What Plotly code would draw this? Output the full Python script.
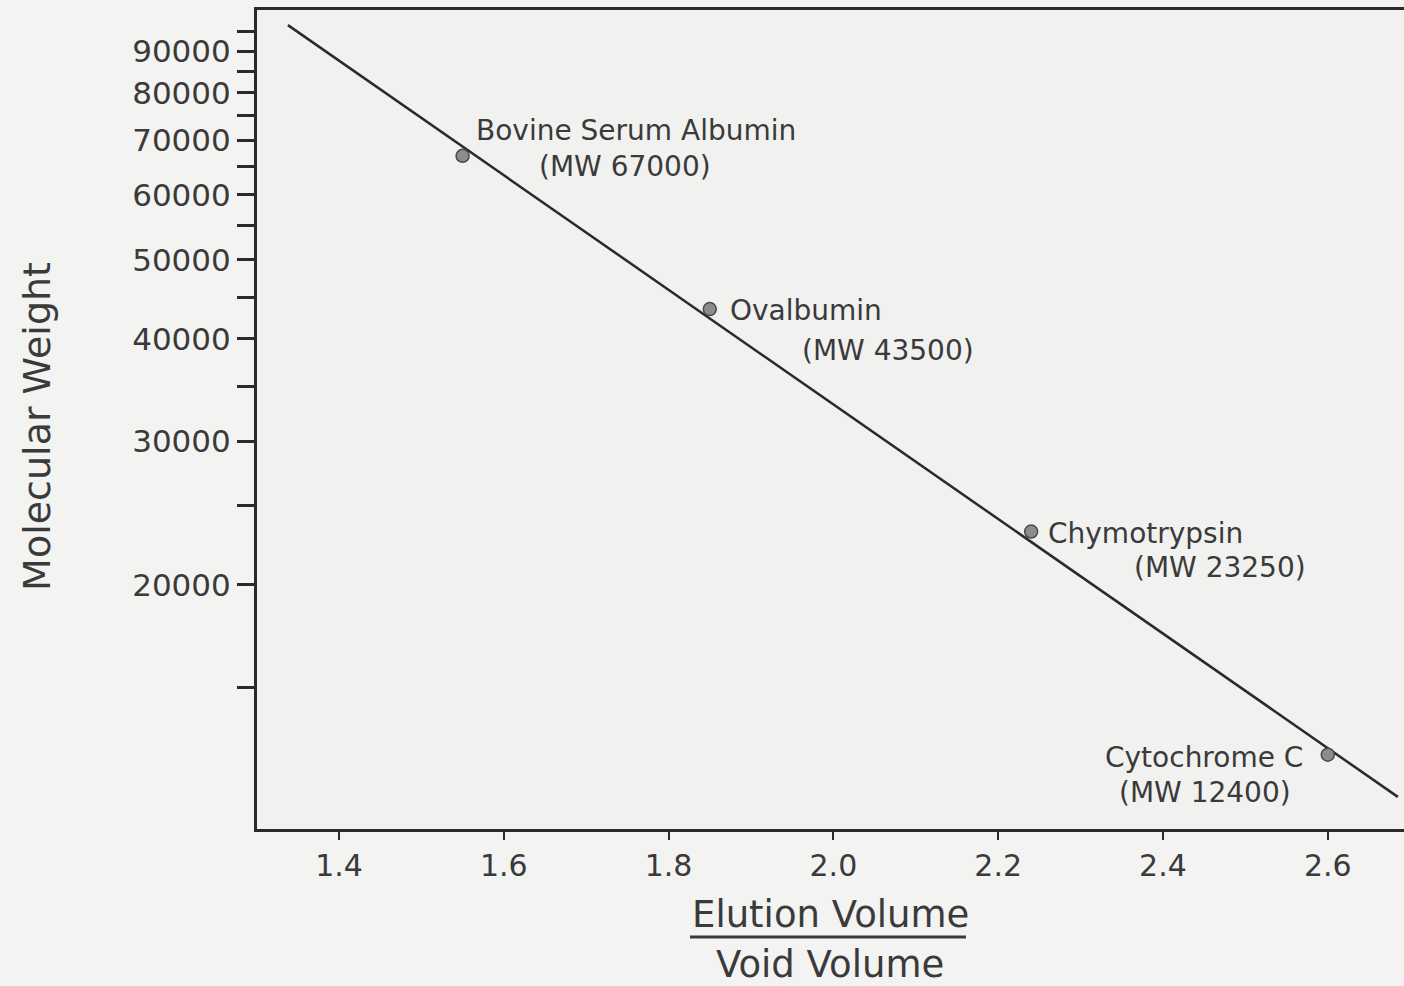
import math
import plotly.graph_objects as go

# ---- data ----
proteins = ["Bovine Serum Albumin", "Ovalbumin", "Chymotrypsin", "Cytochrome C"]
mw_labels = ["(MW 67000)", "(MW 43500)", "(MW 23250)", "(MW 12400)"]
elution_ratio = [1.55, 1.85, 2.24, 2.60]
mol_weight = [67000, 43500, 23250, 12400]

fit_x = [1.338, 2.685]
fit_y = [96800, 11010]

x_tick_vals = [1.4, 1.6, 1.8, 2.0, 2.2, 2.4, 2.6]
x_tick_text = ["1.4", "1.6", "1.8", "2.0", "2.2", "2.4", "2.6"]
y_major_vals = [20000, 30000, 40000, 50000, 60000, 70000, 80000, 90000]
y_major_text = ["20000", "30000", "40000", "50000", "60000", "70000", "80000", "90000"]
y_minor_vals = [15000, 25000, 35000, 45000, 55000, 65000, 75000, 85000, 95000]

# label offsets (pixels) relative to each point: (xshift, yshift, anchor)
name_offsets = [(11, 25, "left"), (18, -1, "left"), (15, -2, "left"), (-23, -3, "right")]
mw_offsets = [(74, -11, "left"), (90, -41, "left"), (101, -36, "left"), (-35, -38, "right")]

INK = "#2a2a2a"
TXT = "#3a3a3a"
FONT = "DejaVu Sans"

fig = go.Figure()

fig.add_trace(go.Scatter(
    x=fit_x, y=fit_y, mode="lines",
    line=dict(color=INK, width=2.5), hoverinfo="skip", showlegend=False,
))
fig.add_trace(go.Scatter(
    x=elution_ratio, y=mol_weight, mode="markers",
    marker=dict(size=13, color="#8c8c8c", line=dict(color="#4a4a4a", width=1.5)),
    showlegend=False,
))

annotations = []
for xv, yv, name, mw, (nx, ny, na), (mx, my, ma) in zip(
        elution_ratio, mol_weight, proteins, mw_labels, name_offsets, mw_offsets):
    ly = math.log10(yv)
    annotations.append(dict(x=xv, y=ly, xref="x", yref="y", text=name, showarrow=False,
                            xanchor=na, yanchor="middle", xshift=nx, yshift=ny,
                            font=dict(family=FONT, size=28, color=TXT)))
    annotations.append(dict(x=xv, y=ly, xref="x", yref="y", text=mw, showarrow=False,
                            xanchor=ma, yanchor="middle", xshift=mx, yshift=my,
                            font=dict(family=FONT, size=28, color=TXT)))

# axis titles
annotations.append(dict(x=-0.1918, y=0.491, xref="paper", yref="paper", text="Molecular Weight",
                        textangle=-90, showarrow=False, xanchor="center", yanchor="middle",
                        font=dict(family=FONT, size=38, color=TXT)))
annotations.append(dict(x=0.4996, y=-0.1038, xref="paper", yref="paper", text="Elution Volume",
                        showarrow=False, xanchor="center", yanchor="middle",
                        font=dict(family=FONT, size=37, color=TXT)))
annotations.append(dict(x=0.4996, y=-0.166, xref="paper", yref="paper", text="Void Volume",
                        showarrow=False, xanchor="center", yanchor="middle",
                        font=dict(family=FONT, size=37, color=TXT)))

shapes = [dict(type="line", xref="paper", yref="paper", x0=0.3775, x1=0.6181,
               y0=-0.1319, y1=-0.1319, line=dict(color=TXT, width=3))]

fig.update_layout(
    width=1404, height=986,
    margin=dict(l=257, r=0, t=10, b=157),
    paper_bgcolor="#f3f3f2",
    plot_bgcolor="#f1f1f0",
    annotations=annotations,
    shapes=shapes,
    showlegend=False,
)

fig.update_xaxes(
    range=[1.3005, 2.6925],
    tickvals=x_tick_vals, ticktext=x_tick_text,
    ticks="outside", ticklen=8, tickwidth=2, tickcolor=INK,
    showline=True, linecolor=INK, linewidth=3, mirror=True,
    showgrid=False, zeroline=False,
    tickfont=dict(family=FONT, size=30, color=TXT),
)

fig.update_yaxes(
    type="log",
    range=[4.0025, 5.0044],
    tickvals=y_major_vals + y_minor_vals,
    ticktext=y_major_text + [""] * len(y_minor_vals),
    ticks="outside", ticklen=17, tickwidth=3, tickcolor=INK,
    showline=True, linecolor=INK, linewidth=3,
    showgrid=False, zeroline=False,
    tickfont=dict(family=FONT, size=31, color=TXT),
)

fig.write_html("out.html")
